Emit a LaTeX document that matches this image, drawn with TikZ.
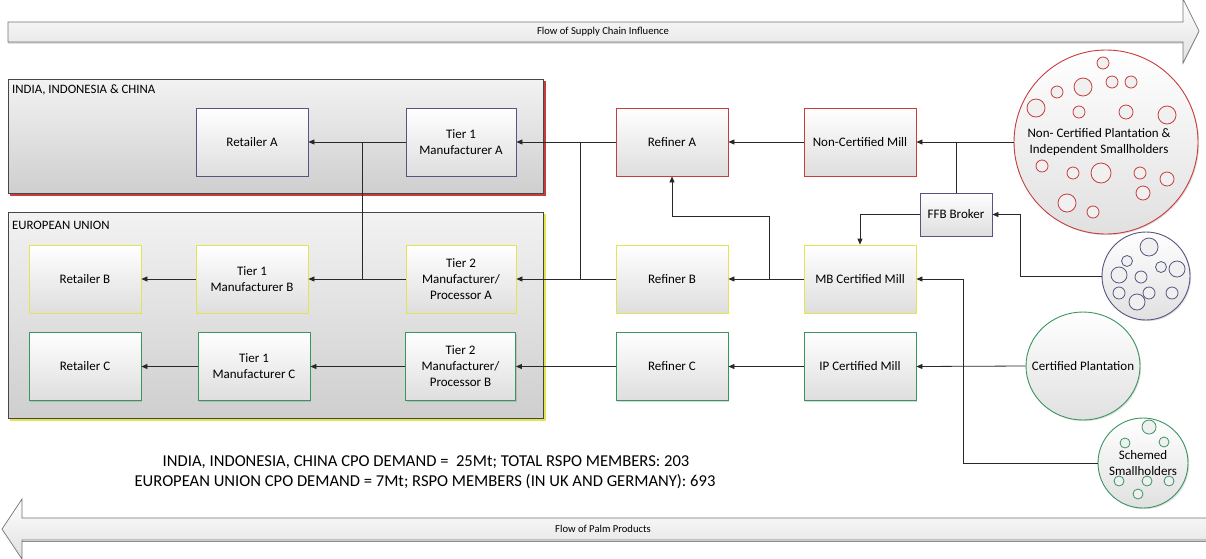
\documentclass[tikz,border=0pt]{standalone}
\usepackage{fontspec}
\setmainfont{Carlito}
\usetikzlibrary{arrows.meta,shapes.geometric,shadows,calc}
\definecolor{redc}{RGB}{200,60,60}
\definecolor{yelc}{RGB}{228,228,80}
\definecolor{grnc}{RGB}{55,150,95}
\definecolor{bluc}{RGB}{85,85,130}
\definecolor{linec}{RGB}{40,40,40}
\definecolor{regborder}{RGB}{70,70,70}
\begin{document}
\begin{tikzpicture}[x=1pt,y=-1pt,
  box/.style={draw, line width=0.8pt, inner sep=2pt, minimum width=112pt, minimum height=68pt,
    align=center, top color=white, bottom color=black!13,
    font=\fontsize{13}{16}\selectfont,
    drop shadow={shadow xshift=1.2pt, shadow yshift=-1.2pt, opacity=0.3}},
  bluebox/.style={box, draw=bluc},
  redbox/.style={box, draw=redc},
  yelbox/.style={box, draw=yelc},
  grnbox/.style={box, draw=grnc},
  bigcirc/.style={circle, line width=0.9pt, inner sep=0pt, align=center,
    top color=white, bottom color=black!12, font=\fontsize{13}{16}\selectfont,
    drop shadow={shadow xshift=1.2pt, shadow yshift=-1.2pt, opacity=0.25}},
  circtxt/.style={font=\fontsize{13}{16}\selectfont, align=center, inner sep=0pt},
  dot/.style={line width=0.8pt, fill=white!94!black},
  arr/.style={draw=linec, line width=0.8pt, -{Triangle[length=6pt,width=5pt]}},
  ln/.style={draw=linec, line width=0.8pt},
  flowtxt/.style={font=\fontsize{10.6}{12}\selectfont, inner sep=0pt},
  regtxt/.style={font=\fontsize{12.8}{14}\selectfont, anchor=west, inner sep=0pt},
  notetxt/.style={font=\fontsize{16.6}{20}\selectfont, inner sep=0pt}
]
\useasboundingbox (0,0) rectangle (1206,558);

% ---- flow arrows
\path[top color=white, bottom color=black!12, drop shadow={shadow xshift=0pt, shadow yshift=-1.5pt, opacity=0.35}]
  (8,22) -- (1183,22) -- (1183,-1) -- (1199,31) -- (1183,63) -- (1183,42) -- (8,42) -- cycle;
\draw[black!55, line width=0.7pt] (8,22) -- (1183,22) -- (1183,-1) -- (1199,31) -- (1183,63) -- (1183,42) -- (8,42) -- cycle;
\node[flowtxt] (topflow) at (603,32) {Flow of Supply Chain Influence};

\path[top color=white, bottom color=black!12] (1207,518) -- (22,518) -- (22,499) -- (2,529) -- (22,559) -- (22,540) -- (1207,540) -- cycle;
\draw[black!55, line width=0.7pt] (1207,518) -- (22,518) -- (22,499) -- (2,529) -- (22,559) -- (22,540) -- (1207,540);
\draw[black!45, line width=1pt] (22,541) -- (1207,541);
\node[flowtxt] (botflow) at (603,529) {Flow of Palm Products};

% ---- regions
\fill[redc] (10,81) rectangle (545.5,195.5);
\draw[regborder, line width=0.8pt, top color=black!5, bottom color=black!19] (8,79) rectangle (543,193);
\node[regtxt] (reg1) at (12,90) {INDIA, INDONESIA \& CHINA};

\fill[yelc] (10,214) rectangle (545.5,420.5);
\draw[regborder, line width=0.8pt, top color=black!5, bottom color=black!19] (8,212) rectangle (543,418);
\node[regtxt] (reg2) at (12,225) {EUROPEAN UNION};

% ---- boxes
\node[bluebox] (retA) at (252,142) {Retailer A};
\node[bluebox, minimum width=110pt] (t1A) at (461,142) {Tier 1\\Manufacturer A};
\node[redbox] (refA) at (672,142) {Refiner A};
\node[redbox] (ncm) at (860,142) {Non-Certified Mill};
\node[bluebox, minimum width=72pt, minimum height=43pt] (ffb) at (956,214.5) {FFB Broker};

\node[yelbox] (retB) at (85,279) {Retailer B};
\node[yelbox] (t1B) at (252,279) {Tier 1\\Manufacturer B};
\node[yelbox, minimum width=110pt] (t2A) at (461,279) {Tier 2\\Manufacturer/\\Processor A};
\node[yelbox] (refB) at (672,279) {Refiner B};
\node[yelbox] (mbm) at (860,279) {MB Certified Mill};

\node[grnbox] (retC) at (85,366.5) {Retailer C};
\node[grnbox] (t1C) at (254,366.5) {Tier 1\\Manufacturer C};
\node[grnbox, minimum width=110pt] (t2B) at (460.5,366.5) {Tier 2\\Manufacturer/\\Processor B};
\node[grnbox] (refC) at (672,366.5) {Refiner C};
\node[grnbox] (ipm) at (860,366.5) {IP Certified Mill};

% ---- growers
\node[bigcirc, draw=redc, minimum size=184pt] (nc) at (1106,142) {};
\foreach \x/\y/\r in {1103/63/6, 1083/87/9, 1112/82/6, 1131/82/6, 1057/92/6, 1036/108/9,
   1079/112/6, 1126/112/7, 1167/115/9, 1042/166/6, 1073/173/6, 1101/173/10, 1140/173/6,
   1167/179/7, 1143/193/7, 1067/203/9, 1093/212/6}
  \draw[dot, draw=redc] (\x,\y) circle (\r);
\node[circtxt] (nctxt) at (1099,142) {Non- Certified Plantation \&\\Independent Smallholders};

\node[bigcirc, draw=bluc, minimum size=88pt] (sh) at (1146,276) {};
\foreach \x/\y/\r in {1149/247/9, 1127/261/5.5, 1161/267/5.5, 1177/269/8, 1119/275/8,
   1141/277/6, 1119/293/6, 1149/293/6, 1172/293/6, 1137/302/8}
  \draw[dot, draw=bluc] (\x,\y) circle (\r);

\node[bigcirc, ellipse, draw=grnc, minimum width=114pt, minimum height=108pt] (cp) at (1083,366) {};
\node[circtxt] (cptxt) at (1083,366) {Certified Plantation};

\node[bigcirc, draw=grnc, minimum size=90pt] (ss) at (1143,463) {};
\foreach \x/\y/\r in {1149/427/7, 1125/443/5, 1164/442/5, 1119/481/5, 1147/481/5,
   1169/481/5, 1138/494/5}
  \draw[dot, draw=grnc] (\x,\y) circle (\r);
\node[circtxt] (sstxt) at (1143,463) {Schemed\\Smallholders};

% ---- junction coordinates
\coordinate (jNC) at (956,142);
\coordinate (jSH) at (1020,276);
\coordinate (jMB) at (769,279);
\coordinate (jSS) at (963,279);
\coordinate (jRA) at (580,142);
\coordinate (jRB) at (580,279);
\coordinate (jTA) at (362,142);
\coordinate (jTB) at (362,279);

% ---- connectors
\draw[arr] (nc.west) -- (ncm.east);
\draw[ln] (jNC) -- (ffb.north);
\draw[arr] (ffb.west) -| (mbm.north);
\draw[arr] (sh.west) -- (jSH) |- (ffb.east);
\draw[arr] (mbm.west) -- (refB.east);
\draw[arr] (jMB) -- ++(0,-63) -| (refA.south);
\draw[arr] (ss.west) -| (jSS) -- (mbm.east);
\draw[arr] (cp.west) -- (ipm.east);
\draw[arr] (ncm.west) -- (refA.east);
\draw[arr] (ipm.west) -- (refC.east);
\draw[arr] (refA.west) -- (t1A.east);
\draw[ln] (jRA) -- (jRB);
\draw[arr] (refB.west) -- (t2A.east);
\draw[arr] (refC.west) -- (t2B.east);
\draw[arr] (t1A.west) -- (retA.east);
\draw[ln] (jTA) -- (jTB);
\draw[arr] (t2A.west) -- (t1B.east);
\draw[arr] (t1B.west) -- (retB.east);
\draw[arr] (t2B.west) -- (t1C.east);
\draw[arr] (t1C.west) -- (retC.east);

% ---- notes
\node[notetxt] (note1) at (426,462) {INDIA, INDONESIA, CHINA CPO DEMAND =~~25Mt; TOTAL RSPO MEMBERS: 203};
\node[notetxt] (note2) at (425,482) {EUROPEAN UNION CPO DEMAND = 7Mt; RSPO MEMBERS (IN UK AND GERMANY): 693};
\end{tikzpicture}
\end{document}
